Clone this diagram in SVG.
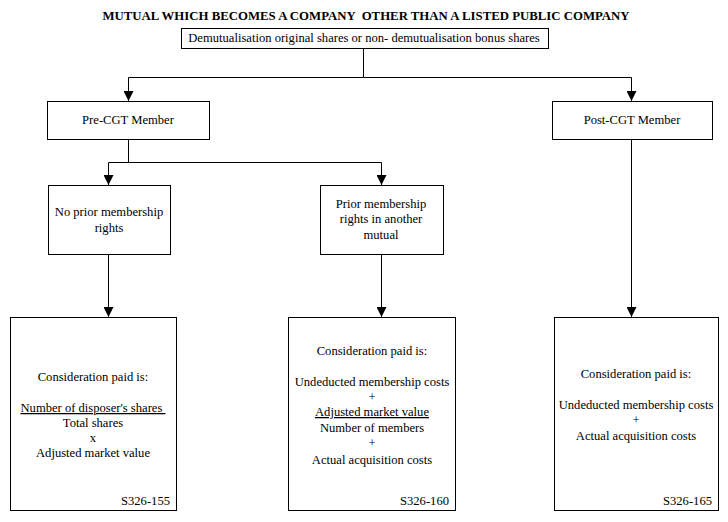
<svg xmlns="http://www.w3.org/2000/svg" width="728" height="522" viewBox="0 0 728 522" font-family="'Liberation Serif', 'Times New Roman', 'DejaVu Serif', serif">
<style>
text{font-family:'Liberation Serif','Times New Roman','DejaVu Serif',serif;font-size:12.6px;fill:#000}
.t{font-weight:bold;font-size:12.8px}
.m{text-anchor:middle}
.e{text-anchor:end}
rect{fill:#fff;stroke:#000;stroke-width:1}
.c{fill:none;stroke:#000;stroke-width:1}
</style>
<defs>
<marker id="a" markerWidth="10" markerHeight="10" refX="10" refY="5" orient="auto" markerUnits="userSpaceOnUse" viewBox="0 0 10 10">
<path d="M0,0 L10,5 L0,10 Z" fill="#000"/>
</marker>
</defs>
<rect x="0" y="0" width="728" height="522" style="stroke:none"/>
<text class="t m" x="366" y="20">MUTUAL WHICH BECOMES A COMPANY &#160;OTHER THAN A LISTED PUBLIC COMPANY</text>
<g id="connectors">
<path class="c" d="M363.5,48 V77.5 H128.5 V101" marker-end="url(#a)"/>
<path class="c" d="M363.5,77.5 H631.5 V101" marker-end="url(#a)"/>
<path class="c" d="M128.5,139 V162.5 H108.5 V185" marker-end="url(#a)"/>
<path class="c" d="M128.5,162.5 H381.5 V185" marker-end="url(#a)"/>
<path class="c" d="M108.5,254 V317" marker-end="url(#a)"/>
<path class="c" d="M381.5,254 V317" marker-end="url(#a)"/>
<path class="c" d="M631.5,139 V317" marker-end="url(#a)"/>
</g>
<g id="root">
<rect x="181.5" y="28.5" width="367" height="20"/>
<text class="m" x="364" y="42">Demutualisation original shares or non- demutualisation bonus shares</text>
</g>
<g id="pre">
<rect x="47.5" y="101.5" width="162" height="38"/>
<text class="m" x="128" y="124">Pre-CGT Member</text>
</g>
<g id="post">
<rect x="552.5" y="101.5" width="160" height="38"/>
<text class="m" x="632" y="124">Post-CGT Member</text>
</g>
<g id="noprior">
<rect x="48.5" y="185.5" width="122" height="69"/>
<text class="m" x="109" y="216">No prior membership</text>
<text class="m" x="109" y="232">rights</text>
</g>
<g id="prior">
<rect x="320.5" y="185.5" width="123" height="69"/>
<text class="m" x="381" y="208">Prior membership</text>
<text class="m" x="381" y="223">rights in another</text>
<text class="m" x="381" y="239">mutual</text>
</g>
<g id="s155">
<rect x="10.5" y="317.5" width="166" height="193"/>
<text class="m" x="93" y="381">Consideration paid is:</text>
<text class="m" x="93" y="412" text-decoration="underline">Number of disposer's shares&#160;</text>
<text class="m" x="93" y="427">Total shares</text>
<text class="m" x="93" y="442">x</text>
<text class="m" x="93" y="457">Adjusted market value</text>
<text class="e" x="170" y="505">S326-155</text>
</g>
<g id="s160">
<rect x="288.5" y="317.5" width="167" height="193"/>
<text class="m" x="372" y="355">Consideration paid is:</text>
<text class="m" x="372" y="386">Undeducted membership costs</text>
<text class="m" x="372" y="401">+</text>
<text class="m" x="372" y="416" text-decoration="underline">Adjusted market value</text>
<text class="m" x="372" y="432">Number of members</text>
<text class="m" x="372" y="447">+</text>
<text class="m" x="372" y="464">Actual acquisition costs</text>
<text class="e" x="449" y="505">S326-160</text>
</g>
<g id="s165">
<rect x="554.5" y="317.5" width="164" height="193"/>
<text class="m" x="636" y="378">Consideration paid is:</text>
<text class="m" x="636" y="409">Undeducted membership costs</text>
<text class="m" x="636" y="424">+</text>
<text class="m" x="636" y="440">Actual acquisition costs</text>
<text class="e" x="712" y="505">S326-165</text>
</g>
</svg>
